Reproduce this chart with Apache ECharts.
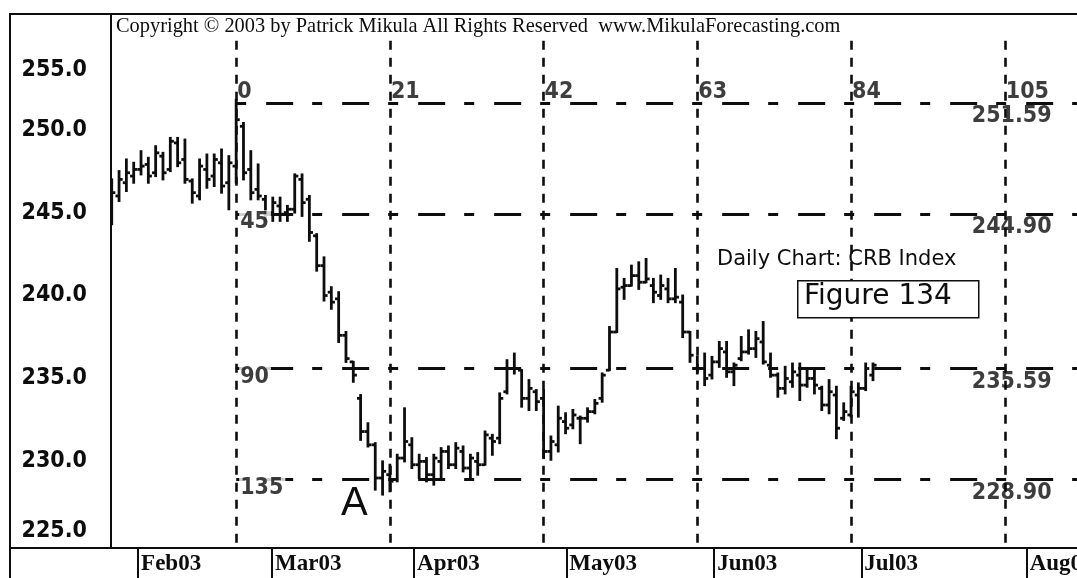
<!DOCTYPE html>
<html>
<head>
<meta charset="utf-8">
<title>Daily Chart: CRB Index</title>
<script src="https://cdn.jsdelivr.net/npm/echarts@6/dist/echarts.min.js"></script>
<style>
  html, body { margin: 0; padding: 0; background: #fff; overflow: hidden; }
  #chart { width: 1077px; height: 578px; }
</style>
</head>
<body>
<div id="chart"></div>
<script>
// Daily OHLC bars of the CRB Index, Feb - Jul 2003.
// Session numbers count trading days from the March high (session 0).
const FIRST_SESSION = -17;

const opens = [
  244.8, 246.0, 246.8, 247.2, 247.6, 247.9, 247.4, 248.4, 247.6, 249.2,
  248.2, 246.9, 246.0, 247.6, 247.2, 248.0, 246.8, 247.8, 250.2, 247.6,
  246.4, 245.8, 245.0, 245.4, 245.0, 245.2, 247.0, 245.8, 243.6, 241.8,
  240.2, 239.8, 237.6, 236.0, 233.8, 231.8, 231.0, 229.0, 229.2, 228.9,
  230.2, 231.0, 229.8, 230.0, 229.2, 230.0, 230.6, 229.8, 230.6, 229.6,
  230.0, 229.8, 231.4, 231.4, 234.2, 235.6, 235.5, 233.8, 234.2, 233.8,
  230.6, 231.0, 232.4, 232.2, 232.6, 232.6, 233.0, 233.8, 235.5, 237.8,
  240.5, 240.6, 241.2, 240.8, 240.6, 240.0, 240.4, 239.8, 239.6, 237.8,
  235.6, 235.6, 235.2, 236.0, 236.6, 235.4, 236.2, 236.6, 236.8, 237.2,
  235.8, 235.2, 234.4, 234.8, 235.2, 234.6, 235.0, 234.4, 233.4, 234.0,
  232.6, 232.8, 234.0, 234.4, 235.2
];
const highs = [
  247.0, 247.5, 248.2, 248.0, 248.7, 248.3, 249.0, 248.6, 249.5, 249.5,
  249.4, 247.0, 248.2, 248.5, 248.5, 248.8, 248.4, 251.8, 250.4, 248.7,
  247.9, 246.0, 245.9, 245.9, 245.4, 247.3, 247.3, 246.0, 243.7, 242.3,
  240.5, 240.2, 237.8, 236.0, 234.0, 232.3, 231.1, 230.0, 229.8, 230.4,
  233.2, 231.4, 230.4, 230.2, 230.4, 230.8, 230.9, 231.1, 230.9, 230.4,
  230.5, 231.8, 231.6, 234.1, 236.1, 236.5, 235.5, 234.9, 234.3, 234.3,
  231.5, 233.3, 232.9, 233.1, 232.7, 233.2, 233.7, 235.3, 238.1, 241.6,
  241.0, 241.8, 242.0, 242.2, 241.0, 241.2, 241.0, 241.6, 240.0, 237.8,
  236.3, 236.5, 236.3, 237.2, 237.2, 235.9, 237.5, 237.9, 237.8, 238.4,
  236.5, 235.3, 235.7, 235.9, 235.9, 235.5, 235.5, 234.5, 234.9, 234.5,
  233.5, 234.5, 234.7, 235.9, 235.9
];
const lows = [
  244.3, 245.7, 246.3, 246.8, 247.3, 246.8, 247.2, 247.0, 247.5, 247.8,
  246.8, 245.6, 245.8, 246.5, 246.6, 246.2, 245.2, 246.8, 247.0, 245.8,
  245.8, 244.5, 244.5, 244.5, 244.5, 245.0, 244.8, 243.3, 241.5, 239.7,
  239.2, 237.2, 236.0, 234.8, 231.3, 230.9, 228.3, 228.0, 228.2, 228.8,
  230.0, 229.6, 229.0, 228.8, 228.6, 228.9, 229.6, 229.6, 229.4, 229.0,
  229.2, 229.8, 230.4, 231.1, 234.1, 235.3, 233.3, 233.1, 233.1, 230.2,
  230.1, 230.6, 231.7, 232.0, 231.1, 232.4, 232.9, 233.6, 235.5, 237.8,
  239.8, 240.6, 240.4, 240.8, 239.6, 239.8, 239.6, 239.6, 237.5, 236.0,
  235.3, 234.6, 235.0, 235.7, 235.1, 234.6, 236.1, 236.5, 236.3, 235.9,
  235.1, 233.9, 234.1, 234.5, 233.7, 234.5, 234.1, 233.1, 232.9, 231.4,
  232.5, 232.7, 232.7, 234.3, 234.9
];
const closes = [
  246.2, 247.0, 247.4, 247.6, 247.8, 247.2, 248.6, 247.4, 249.3, 248.0,
  247.0, 246.2, 247.8, 247.0, 248.2, 246.6, 248.0, 250.6, 247.4, 246.2,
  246.0, 245.0, 245.6, 244.9, 245.2, 247.2, 245.6, 243.8, 241.8, 240.0,
  239.6, 237.6, 236.2, 235.2, 231.8, 231.0, 229.0, 229.4, 228.8, 230.2,
  231.2, 229.8, 230.0, 229.2, 230.2, 230.6, 229.8, 230.8, 229.6, 230.2,
  229.8, 231.6, 231.2, 233.8, 235.6, 235.6, 233.8, 234.4, 233.6, 230.6,
  231.2, 232.6, 232.0, 232.8, 232.6, 233.0, 233.5, 235.2, 237.8, 240.4,
  240.6, 241.2, 240.8, 241.0, 240.2, 240.6, 239.8, 239.9, 237.8, 236.4,
  235.6, 235.0, 236.0, 236.8, 235.4, 235.8, 236.6, 236.8, 237.4, 236.0,
  235.2, 234.4, 235.0, 235.4, 234.6, 235.0, 234.6, 233.4, 234.2, 232.0,
  233.0, 234.2, 234.4, 235.6, 235.8
];

// Gann levels and the time cycle counted from the high
const gannLevels = [251.59, 244.90, 235.59, 228.90];
const gannLevelNames = ['', '45', '90', '135'];
const gannDays = [0, 21, 42, 63, 84, 105];

// Price scale labels
const priceTicks = [225, 230, 235, 240, 245, 250, 255];

// Month boundaries on the session scale
const monthStarts = [-13.4, 4.9, 24.3, 45.1, 65.3, 85.4, 108.0];
const monthLabels = ['Feb03', 'Mar03', 'Apr03', 'May03', 'Jun03', 'Jul03', 'Aug03'];

// ---- axis extents ----
const X_MIN = -17.1, X_MAX = 114.87;
const Y_MIN = 224.78, Y_MAX = 256.97;
const CYCLE_TOP = 255.35;      // upper end of the cycle lines
const CYCLE_LABEL_Y = 252.25;  // anchor of the cycle numbers
const LEVEL_LABEL_X = 100.5;   // anchor of the level values

const INK = '#0d0d0d';
const NUM_FONT = '"DejaVu Sans Condensed", "Liberation Sans Narrow", "DejaVu Sans", sans-serif';

const bars = opens.map((o, i) => [FIRST_SESSION + i, o, highs[i], lows[i], closes[i]]);

function renderBar(params, api) {
  const x = api.value(0);
  const pO = api.coord([x, api.value(1)]);
  const pH = api.coord([x, api.value(2)]);
  const pL = api.coord([x, api.value(3)]);
  const pC = api.coord([x, api.value(4)]);
  const tick = 3.6;
  const style = { stroke: INK, lineWidth: 2.8 };
  return {
    type: 'group',
    children: [
      { type: 'line', shape: { x1: pH[0], y1: pH[1] - 1, x2: pL[0], y2: pL[1] + 1 }, style },
      { type: 'line', shape: { x1: pO[0] - tick, y1: pO[1], x2: pO[0], y2: pO[1] }, style },
      { type: 'line', shape: { x1: pC[0], y1: pC[1], x2: pC[0] + tick, y2: pC[1] }, style }
    ]
  };
}

const chart = echarts.init(document.getElementById('chart'), null, { renderer: 'canvas' });

const option = {
  backgroundColor: '#ffffff',
  animation: false,
  grid: { left: 111, right: 0, top: 14, bottom: 30, containLabel: false, outerBoundsMode: 'none' },
  xAxis: {
    type: 'value',
    min: X_MIN,
    max: X_MAX,
    splitLine: { show: false },
    axisLine: { show: true, onZero: false, lineStyle: { color: INK, width: 2 } },
    axisTick: {
      show: true,
      customValues: monthStarts,
      length: 30,
      inside: false,
      lineStyle: { color: INK, width: 2 }
    },
    axisLabel: {
      show: true,
      customValues: monthStarts,
      hideOverlap: false,
      formatter: (v) => monthLabels[monthStarts.indexOf(v)] || '',
      align: 'left',
      padding: [0, 0, 0, 3],
      margin: 5,
      color: INK,
      fontFamily: '"Liberation Serif", "Times New Roman", serif',
      fontSize: 23,
      fontWeight: 'bold'
    }
  },
  yAxis: {
    type: 'value',
    min: Y_MIN,
    max: Y_MAX,
    splitLine: { show: false },
    axisLine: { show: true, onZero: false, lineStyle: { color: INK, width: 2 } },
    axisTick: { show: false },
    axisLabel: {
      show: true,
      customValues: priceTicks,
      margin: 24,
      color: INK,
      fontFamily: NUM_FONT,
      fontSize: 23,
      fontWeight: 'bold',
      formatter: (v) => {
        const t = v.toFixed(1);
        if (v === priceTicks[priceTicks.length - 1]) return '{hi|' + t + '}';
        if (v === priceTicks[0]) return '{lo|' + t + '}';
        return t;
      },
      rich: {
        hi: { fontFamily: NUM_FONT, fontSize: 23, fontWeight: 'bold', color: INK, padding: [46, 0, 0, 0] },
        lo: { fontFamily: NUM_FONT, fontSize: 23, fontWeight: 'bold', color: INK, padding: [0, 0, 26, 0] }
      }
    }
  },
  series: [
    {
      // Gann price levels and time cycle lines
      name: 'gann',
      type: 'scatter',
      data: [],
      silent: true,
      markLine: {
        silent: true,
        symbol: ['none', 'none'],
        label: { show: false },
        animation: false,
        data: [
          ...gannLevels.map(v => [
            { coord: [gannDays[0], v], lineStyle: { color: INK, width: 3, type: [10, 20, 27, 19] } },
            { coord: [X_MAX, v] }
          ]),
          ...gannDays.map(d => [
            { coord: [d, CYCLE_TOP], lineStyle: { color: INK, width: 2.6, type: [9, 8] } },
            { coord: [d, Y_MIN] }
          ])
        ]
      }
    },
    {
      name: 'CRB Index',
      type: 'custom',
      renderItem: renderBar,
      data: bars,
      encode: { x: 0, y: [1, 2, 3, 4] },
      clip: true,
      z: 5
    },
    {
      // cycle numbers along the top
      name: 'cycle',
      type: 'scatter',
      symbolSize: 0,
      silent: true,
      data: gannDays.map(d => [d, CYCLE_LABEL_Y]),
      label: {
        show: true,
        position: 'right',
        distance: 1,
        formatter: (p) => String(p.value[0]),
        color: INK,
        fontFamily: NUM_FONT,
        fontWeight: 'bold',
        fontSize: 23
      },
      z: 6
    },
    {
      // level names next to the high session
      name: 'levelNames',
      type: 'scatter',
      symbolSize: 0,
      silent: true,
      data: gannLevels.map((v, i) => ({ value: [gannDays[0], v], name: gannLevelNames[i] })),
      label: {
        show: true,
        position: 'right',
        distance: 3,
        offset: [0, 8],
        formatter: (p) => p.name,
        color: INK,
        backgroundColor: '#ffffff',
        padding: [1, 2, 0, 1],
        fontFamily: NUM_FONT,
        fontWeight: 'bold',
        fontSize: 23
      },
      z: 7
    },
    {
      // level values on the right
      name: 'levelValues',
      type: 'scatter',
      symbolSize: 0,
      silent: true,
      data: gannLevels.map(v => [LEVEL_LABEL_X, v]),
      label: {
        show: true,
        position: 'right',
        distance: 0,
        offset: [0, 13],
        formatter: (p) => p.value[1].toFixed(2),
        color: INK,
        fontFamily: NUM_FONT,
        fontWeight: 'bold',
        fontSize: 23
      },
      z: 6
    }
  ],
  graphic: [
    { type: 'line', shape: { x1: 9, y1: 14, x2: 1077, y2: 14 }, style: { stroke: INK, lineWidth: 2 }, z: 10 },
    { type: 'line', shape: { x1: 10, y1: 13, x2: 10, y2: 578 }, style: { stroke: INK, lineWidth: 2 }, z: 10 },
    { type: 'line', shape: { x1: 10, y1: 548, x2: 111, y2: 548 }, style: { stroke: INK, lineWidth: 2 }, z: 10 },
    {
      type: 'text', left: 116, top: 17, z: 10,
      style: {
        text: 'Copyright \u00A9 2003 by Patrick Mikula All Rights Reserved  www.MikulaForecasting.com',
        fill: INK, font: '20.4px "Liberation Serif", "Times New Roman", serif'
      }
    },
    {
      type: 'text', left: 717, top: 249, z: 10,
      style: { text: 'Daily Chart: CRB Index', fill: INK, font: '21px "DejaVu Sans", sans-serif' }
    },
    {
      type: 'rect', left: 797, top: 280, z: 10,
      shape: { width: 181, height: 37 },
      style: { fill: '#ffffff', stroke: INK, lineWidth: 1.5 }
    },
    {
      type: 'text', left: 804, top: 283, z: 11,
      style: { text: 'Figure 134', fill: INK, font: '28px "DejaVu Sans", sans-serif' }
    },
    {
      type: 'text', left: 341, top: 484, z: 10,
      style: { text: 'A', fill: INK, font: '40px "Liberation Sans", Arial, sans-serif' }
    }
  ]
};

chart.setOption(option);
</script>
</body>
</html>
